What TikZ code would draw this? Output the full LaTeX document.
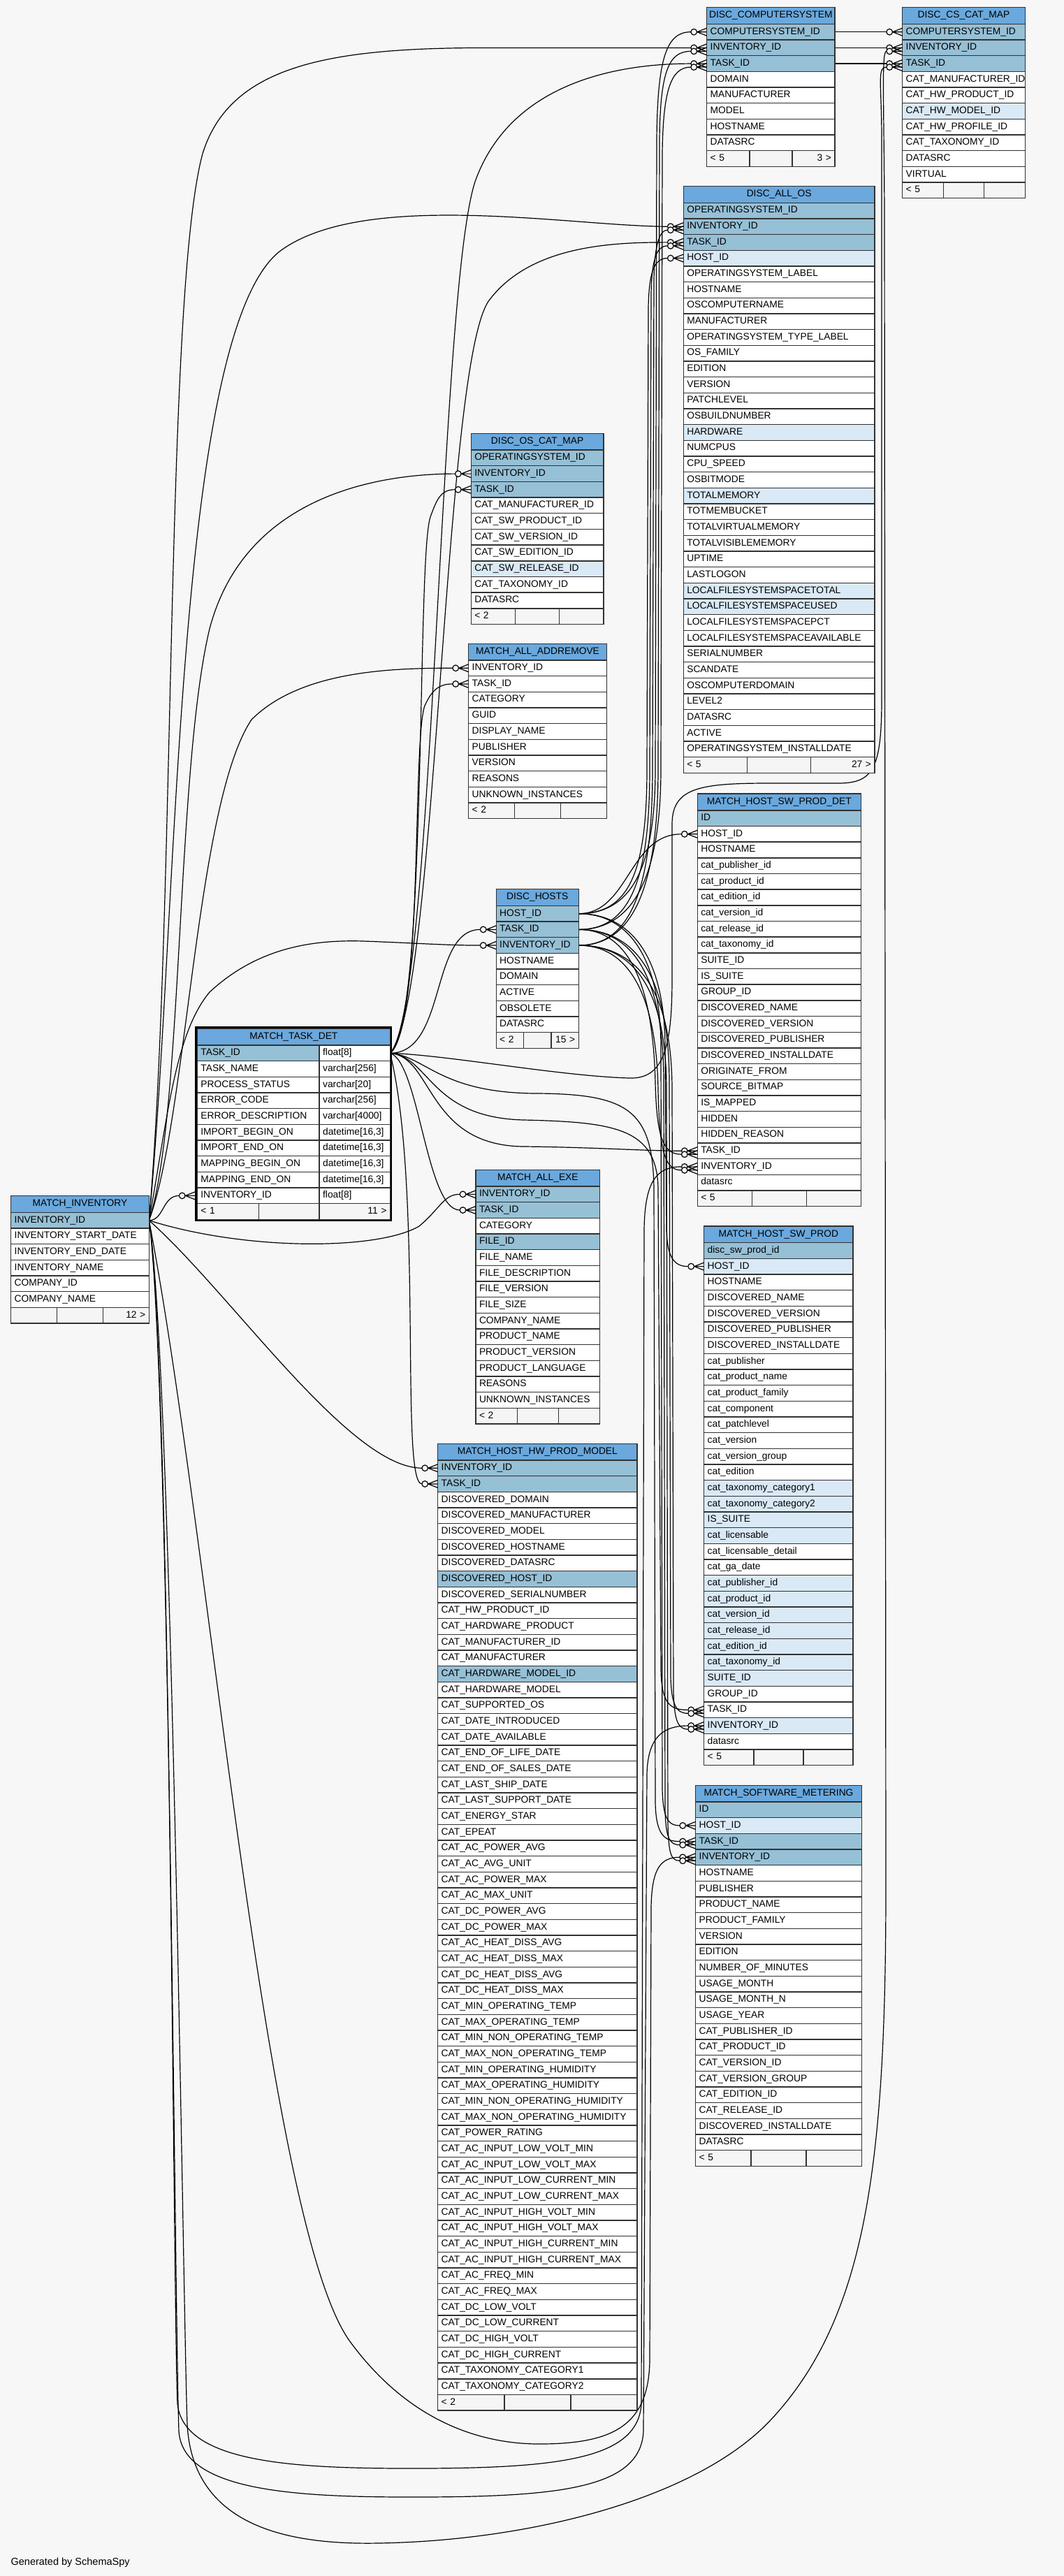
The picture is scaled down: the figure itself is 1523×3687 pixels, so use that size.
\documentclass[tikz,border=0pt]{standalone}
\usepackage{fontspec}
\setmainfont{Liberation Sans}
\usepackage{underscore}
\usepackage{tikz}

\definecolor{pagebg}{RGB}{247,247,247}
\definecolor{headblue}{RGB}{106,168,221}
\definecolor{pk}{RGB}{150,192,214}
\definecolor{ix}{RGB}{218,233,246}
\definecolor{fd}{RGB}{255,255,255}
\definecolor{footgray}{RGB}{245,245,245}
\definecolor{gridline}{RGB}{50,50,50}

\pgfdeclarelayer{bg}
\pgfdeclarelayer{edges}
\pgfsetlayers{bg,edges,main}

\newcommand{\tabfont}{\fontsize{13.8}{16}\selectfont}

% one table: name, left x, right x, top y, title, rows, footer left, footer right
\newcommand{\dbtable}[8]{
  \pgfmathsetmacro{\tw}{#3-#2}
  \pgfmathsetmacro{\tx}{#3-#2-10}
  \node[tabhead, minimum width=\tw pt, text width=\tx pt] (#1) at (#2,#4) {\makebox[\linewidth][c]{#5}};
  \foreach \kd/\lbl [count=\rw] in {#6} {
    \node[tabrow, fill=\kd, minimum width=\tw pt, text width=\tx pt] (#1-\rw) at (#2,{#4+23.7+(\rw-1)*22.67}) {\mbox{\lbl}};
    \xdef\nrows{\rw}
  }
  \pgfmathsetmacro{\fw}{\tw/3}
  \pgfmathsetmacro{\fx}{\tw/3-10}
  \pgfmathsetmacro{\fy}{#4+23.7+\nrows*22.67}
  \node[tabfoot, minimum width=\fw pt, text width=\fx pt, align=left] (#1-fa) at (#2,\fy) {#7};
  \node[tabfoot, minimum width=\fw pt, text width=\fx pt] (#1-fb) at ({#2+\fw},\fy) {};
  \node[tabfoot, minimum width=\fw pt, text width=\fx pt, align=right] (#1-fc) at ({#2+2*\fw},\fy) {#8};
}

\begin{document}
\begin{tikzpicture}[x=1pt, y=-1pt,
    tabhead/.style={draw=gridline, line width=1.4pt, fill=headblue, anchor=north west,
      inner xsep=5pt, inner ysep=0pt, outer sep=0pt, minimum height=23.7pt,
      text height=10.5pt, text depth=3.7pt, align=center, font=\tabfont},
    tabrow/.style={draw=gridline, line width=1.4pt, anchor=north west,
      inner xsep=5pt, inner ysep=0pt, outer sep=0pt, minimum height=22.67pt,
      text height=10.5pt, text depth=3.7pt, align=left, font=\tabfont},
    tabfoot/.style={tabrow, fill=footgray},
    fk/.style={line width=1.2pt},
    crow/.pic={
      \draw[fk] (-14,0) -- (0,-5.5) (-14,0) -- (0,0) (-14,0) -- (0,5.5);
      \draw[fk, fill=pagebg] (-18.5,0) circle (4.3);
    }]

    \begin{pgfonlayer}{bg}
      \fill[pagebg] (0,0) rectangle (1523,3687);
    \end{pgfonlayer}
    \useasboundingbox (0,0) rectangle (1523,3687);

    % Tables
    \dbtable{cs}{1011.7}{1195}{10.7}{DISC_COMPUTERSYSTEM}{pk/COMPUTERSYSTEM_ID, pk/INVENTORY_ID, pk/TASK_ID,
      fd/DOMAIN, fd/MANUFACTURER, fd/MODEL, fd/HOSTNAME, fd/DATASRC}{< 5}{3 >}

    \dbtable{cscm}{1291.7}{1467.3}{10.7}{DISC_CS_CAT_MAP}{pk/COMPUTERSYSTEM_ID, pk/INVENTORY_ID, pk/TASK_ID,
      fd/CAT_MANUFACTURER_ID, fd/CAT_HW_PRODUCT_ID, ix/CAT_HW_MODEL_ID, fd/CAT_HW_PROFILE_ID,
      fd/CAT_TAXONOMY_ID, fd/DATASRC, fd/VIRTUAL}{< 5}{}

    \dbtable{os}{978.3}{1252}{266.5}{DISC_ALL_OS}{pk/OPERATINGSYSTEM_ID, pk/INVENTORY_ID, pk/TASK_ID,
      ix/HOST_ID, fd/OPERATINGSYSTEM_LABEL, fd/HOSTNAME, fd/OSCOMPUTERNAME, fd/MANUFACTURER,
      fd/OPERATINGSYSTEM_TYPE_LABEL, fd/OS_FAMILY, fd/EDITION, fd/VERSION, fd/PATCHLEVEL,
      fd/OSBUILDNUMBER, ix/HARDWARE, fd/NUMCPUS, fd/CPU_SPEED, fd/OSBITMODE, ix/TOTALMEMORY,
      fd/TOTMEMBUCKET, fd/TOTALVIRTUALMEMORY, fd/TOTALVISIBLEMEMORY, fd/UPTIME, fd/LASTLOGON,
      ix/LOCALFILESYSTEMSPACETOTAL, ix/LOCALFILESYSTEMSPACEUSED, fd/LOCALFILESYSTEMSPACEPCT,
      fd/LOCALFILESYSTEMSPACEAVAILABLE, fd/SERIALNUMBER, fd/SCANDATE, fd/OSCOMPUTERDOMAIN,
      fd/LEVEL2, fd/DATASRC, fd/ACTIVE, fd/OPERATINGSYSTEM_INSTALLDATE}{< 5}{27 >}

    \dbtable{oscm}{674.3}{864}{620.4}{DISC_OS_CAT_MAP}{pk/OPERATINGSYSTEM_ID, pk/INVENTORY_ID, pk/TASK_ID,
      fd/CAT_MANUFACTURER_ID, fd/CAT_SW_PRODUCT_ID, fd/CAT_SW_VERSION_ID, fd/CAT_SW_EDITION_ID,
      ix/CAT_SW_RELEASE_ID, fd/CAT_TAXONOMY_ID, fd/DATASRC}{< 2}{}

    \dbtable{addrem}{670.7}{868.3}{921.2}{MATCH_ALL_ADDREMOVE}{fd/INVENTORY_ID, fd/TASK_ID, fd/CATEGORY,
      fd/GUID, fd/DISPLAY_NAME, fd/PUBLISHER, fd/VERSION, fd/REASONS, fd/UNKNOWN_INSTANCES}{< 2}{}

    \dbtable{hosts}{710.2}{828.2}{1272.7}{DISC_HOSTS}{pk/HOST_ID, pk/TASK_ID, pk/INVENTORY_ID,
      fd/HOSTNAME, fd/DOMAIN, fd/ACTIVE, fd/OBSOLETE, fd/DATASRC}{< 2}{15 >}

    \dbtable{inv}{15.7}{213.3}{1711.7}{MATCH_INVENTORY}{pk/INVENTORY_ID, fd/INVENTORY_START_DATE,
      fd/INVENTORY_END_DATE, fd/INVENTORY_NAME, fd/COMPANY_ID, fd/COMPANY_NAME}{}{12 >}

    \dbtable{swdet}{998.3}{1232.3}{1136.1}{MATCH_HOST_SW_PROD_DET}{pk/ID, fd/HOST_ID, fd/HOSTNAME,
      fd/cat_publisher_id, fd/cat_product_id, fd/cat_edition_id, fd/cat_version_id, fd/cat_release_id,
      fd/cat_taxonomy_id, fd/SUITE_ID, fd/IS_SUITE, fd/GROUP_ID, fd/DISCOVERED_NAME,
      fd/DISCOVERED_VERSION, fd/DISCOVERED_PUBLISHER, fd/DISCOVERED_INSTALLDATE, fd/ORIGINATE_FROM,
      fd/SOURCE_BITMAP, fd/IS_MAPPED, fd/HIDDEN, fd/HIDDEN_REASON, fd/TASK_ID, fd/INVENTORY_ID,
      fd/datasrc}{< 5}{}

    \dbtable{exe}{681}{858.7}{1674.3}{MATCH_ALL_EXE}{pk/INVENTORY_ID, pk/TASK_ID, fd/CATEGORY, pk/FILE_ID,
      fd/FILE_NAME, fd/FILE_DESCRIPTION, fd/FILE_VERSION, fd/FILE_SIZE, fd/COMPANY_NAME,
      fd/PRODUCT_NAME, fd/PRODUCT_VERSION, fd/PRODUCT_LANGUAGE, fd/REASONS,
      fd/UNKNOWN_INSTANCES}{< 2}{}

    \dbtable{swprod}{1007.7}{1221}{1754.9}{MATCH_HOST_SW_PROD}{pk/disc_sw_prod_id, ix/HOST_ID, fd/HOSTNAME,
      fd/DISCOVERED_NAME, fd/DISCOVERED_VERSION, fd/DISCOVERED_PUBLISHER, fd/DISCOVERED_INSTALLDATE,
      fd/cat_publisher, fd/cat_product_name, fd/cat_product_family, fd/cat_component,
      fd/cat_patchlevel, fd/cat_version, fd/cat_version_group, fd/cat_edition,
      ix/cat_taxonomy_category1, ix/cat_taxonomy_category2, ix/IS_SUITE, ix/cat_licensable,
      fd/cat_licensable_detail, fd/cat_ga_date, ix/cat_publisher_id, ix/cat_product_id,
      ix/cat_version_id, ix/cat_release_id, ix/cat_edition_id, ix/cat_taxonomy_id, ix/SUITE_ID,
      fd/GROUP_ID, fd/TASK_ID, ix/INVENTORY_ID, fd/datasrc}{< 5}{}

    \dbtable{hw}{626.7}{912}{2066.2}{MATCH_HOST_HW_PROD_MODEL}{pk/INVENTORY_ID, pk/TASK_ID,
      fd/DISCOVERED_DOMAIN, fd/DISCOVERED_MANUFACTURER, fd/DISCOVERED_MODEL, fd/DISCOVERED_HOSTNAME,
      fd/DISCOVERED_DATASRC, pk/DISCOVERED_HOST_ID, fd/DISCOVERED_SERIALNUMBER, fd/CAT_HW_PRODUCT_ID,
      fd/CAT_HARDWARE_PRODUCT, fd/CAT_MANUFACTURER_ID, fd/CAT_MANUFACTURER, pk/CAT_HARDWARE_MODEL_ID,
      fd/CAT_HARDWARE_MODEL, fd/CAT_SUPPORTED_OS, fd/CAT_DATE_INTRODUCED, fd/CAT_DATE_AVAILABLE,
      fd/CAT_END_OF_LIFE_DATE, fd/CAT_END_OF_SALES_DATE, fd/CAT_LAST_SHIP_DATE,
      fd/CAT_LAST_SUPPORT_DATE, fd/CAT_ENERGY_STAR, fd/CAT_EPEAT, fd/CAT_AC_POWER_AVG,
      fd/CAT_AC_AVG_UNIT, fd/CAT_AC_POWER_MAX, fd/CAT_AC_MAX_UNIT, fd/CAT_DC_POWER_AVG,
      fd/CAT_DC_POWER_MAX, fd/CAT_AC_HEAT_DISS_AVG, fd/CAT_AC_HEAT_DISS_MAX, fd/CAT_DC_HEAT_DISS_AVG,
      fd/CAT_DC_HEAT_DISS_MAX, fd/CAT_MIN_OPERATING_TEMP, fd/CAT_MAX_OPERATING_TEMP,
      fd/CAT_MIN_NON_OPERATING_TEMP, fd/CAT_MAX_NON_OPERATING_TEMP, fd/CAT_MIN_OPERATING_HUMIDITY,
      fd/CAT_MAX_OPERATING_HUMIDITY, fd/CAT_MIN_NON_OPERATING_HUMIDITY,
      fd/CAT_MAX_NON_OPERATING_HUMIDITY, fd/CAT_POWER_RATING, fd/CAT_AC_INPUT_LOW_VOLT_MIN,
      fd/CAT_AC_INPUT_LOW_VOLT_MAX, fd/CAT_AC_INPUT_LOW_CURRENT_MIN, fd/CAT_AC_INPUT_LOW_CURRENT_MAX,
      fd/CAT_AC_INPUT_HIGH_VOLT_MIN, fd/CAT_AC_INPUT_HIGH_VOLT_MAX, fd/CAT_AC_INPUT_HIGH_CURRENT_MIN,
      fd/CAT_AC_INPUT_HIGH_CURRENT_MAX, fd/CAT_AC_FREQ_MIN, fd/CAT_AC_FREQ_MAX, fd/CAT_DC_LOW_VOLT,
      fd/CAT_DC_LOW_CURRENT, fd/CAT_DC_HIGH_VOLT, fd/CAT_DC_HIGH_CURRENT, fd/CAT_TAXONOMY_CATEGORY1,
      fd/CAT_TAXONOMY_CATEGORY2}{< 2}{}

    \dbtable{meter}{995.7}{1233.3}{2555.2}{MATCH_SOFTWARE_METERING}{pk/ID, ix/HOST_ID, pk/TASK_ID,
      pk/INVENTORY_ID, fd/HOSTNAME, fd/PUBLISHER, fd/PRODUCT_NAME, fd/PRODUCT_FAMILY, fd/VERSION,
      fd/EDITION, fd/NUMBER_OF_MINUTES, fd/USAGE_MONTH, fd/USAGE_MONTH_N, fd/USAGE_YEAR,
      fd/CAT_PUBLISHER_ID, fd/CAT_PRODUCT_ID, fd/CAT_VERSION_ID, fd/CAT_VERSION_GROUP,
      fd/CAT_EDITION_ID, fd/CAT_RELEASE_ID, fd/DISCOVERED_INSTALLDATE, fd/DATASRC}{< 5}{}

    % MATCH_TASK_DET, the focus table with its heavy frame
    \draw[line width=2.6pt] (280.5,1470.5) rectangle (559.5,1746.5);
    \node[tabhead, minimum width=276pt, text width=266pt] (task) at (282.4,1472.3) {MATCH_TASK_DET};
    \foreach \kd/\lbl/\typ [count=\rw] in {pk/TASK_ID/{float[8]}, fd/TASK_NAME/{varchar[256]},
        fd/PROCESS_STATUS/{varchar[20]}, fd/ERROR_CODE/{varchar[256]},
        fd/ERROR_DESCRIPTION/{varchar[4000]}, fd/IMPORT_BEGIN_ON/{datetime[16,3]},
        fd/IMPORT_END_ON/{datetime[16,3]}, fd/MAPPING_BEGIN_ON/{datetime[16,3]},
        fd/MAPPING_END_ON/{datetime[16,3]}, fd/INVENTORY_ID/{float[8]}} {
      \node[tabrow, fill=\kd, minimum width=174.7pt, text width=164.7pt] (task-\rw) at (282.4,{1496+(\rw-1)*22.67}) {\mbox{\lbl}};
      \node[tabrow, fill=fd, minimum width=101.3pt, text width=91.3pt] (taskT-\rw) at (457.1,{1496+(\rw-1)*22.67}) {\mbox{\typ}};
    }
    \node[tabfoot, minimum width=87.8pt, text width=77.8pt, align=left] (task-fa) at (282.4,1722.7) {< 1};
    \node[tabfoot, minimum width=86.9pt, text width=76.9pt] (task-fb) at (370.2,1722.7) {};
    \node[tabfoot, minimum width=101.3pt, text width=91.3pt, align=right] (task-fc) at (457.1,1722.7) {11 >};

    % Relationships
    \begin{pgfonlayer}{edges}
      % DISC_COMPUTERSYSTEM to DISC_CS_CAT_MAP
      \draw[fk] (cs-1.east) -- ([xshift=-22.8pt]cscm-1.west);
      \draw[fk] (cs-2.east) -- ([xshift=-22.8pt]cscm-2.west);
      \draw[fk] (cs-3.east) -- ([xshift=-22.8pt]cscm-3.west);

      % MATCH_INVENTORY.INVENTORY_ID
      \draw[fk] (inv-1.east) .. controls (235,1746.7) and (232,1711.4) .. ([xshift=-26pt]task-10.west);
      \draw[fk] (inv-1.east) .. controls (240,1600) and (250,1480) .. (300,1420)
        .. controls (370,1355) and (450,1345) .. (520,1347)
        .. controls (600,1350) and (640,1353.1) .. ([xshift=-22.8pt]hosts-3.west);
      \draw[fk] (inv-1.east) .. controls (262,1600) and (252,1100) .. (300,900)
        .. controls (350,710) and (540,678.1) .. ([xshift=-22.8pt]oscm-2.west);
      \draw[fk] (inv-1.east) .. controls (268,1600) and (280,1150) .. (360,1030)
        .. controls (430,960) and (560,956.2) .. ([xshift=-22.8pt]addrem-1.west);
      \draw[fk] (inv-1.east) .. controls (350,1790) and (540,1790) .. (600,1755)
        .. controls (630,1730) and (635,1709.3) .. ([xshift=-22.8pt]exe-1.west);
      \draw[fk] (inv-1.east) .. controls (330,1850) and (500,2101.2) .. ([xshift=-22.8pt]hw-1.west);
      \draw[fk] (inv-1.east) .. controls (252,1300) and (236,420) .. (290,220)
        .. controls (330,90) and (480,68.4) .. (700,68.4) -- ([xshift=-22.8pt]cs-2.west);
      \draw[fk] (inv-1.east) .. controls (256,1300) and (250,480) .. (400,360)
        .. controls (520,270) and (820,324.2) .. ([xshift=-22.8pt]os-2.west);
      \draw[fk] (inv-1.east) .. controls (244,1950) and (248,3300) .. (254,3440)
        .. controls (262,3525) and (420,3533) .. (590,3533)
        .. controls (800,3533) and (914,3520) .. (918,3440) -- (922,1760)
        .. controls (923,1690) and (940,1669.9) .. ([xshift=-22.8pt]swdet-23.west);
      \draw[fk] (inv-1.east) .. controls (242,1950) and (250,3300) .. (256,3480)
        .. controls (262,3565) and (420,3574) .. (590,3574)
        .. controls (800,3574) and (917,3562) .. (921,3480) -- (926,2540)
        .. controls (927,2485) and (950,2470.1) .. ([xshift=-22.8pt]swprod-31.west);
      \draw[fk] (inv-1.east) .. controls (300,2200) and (380,3180) .. (500,3350)
        .. controls (580,3460) and (680,3498) .. (772,3498)
        .. controls (880,3498) and (928,3470) .. (930,3380) -- (932,2730)
        .. controls (933,2675) and (945,2658.3) .. ([xshift=-22.8pt]meter-4.west);
      \draw[fk] (inv-1.east) .. controls (246,1950) and (262,3300) .. (268,3470)
        .. controls (276,3620) and (420,3642) .. (540,3640)
        .. controls (750,3637) and (990,3580) .. (1100,3467)
        .. controls (1240,3320) and (1268,3100) .. (1268,2700) -- (1266,300)
        .. controls (1265,130) and (1262,73.4) .. ([xshift=-22.8pt,yshift=-5pt]cscm-2.west);

      % MATCH_TASK_DET.TASK_ID
      \draw[fk] (taskT-1.east) .. controls (640,1507.3) and (615,1330.4) .. ([xshift=-22.8pt]hosts-2.west);
      \draw[fk] (taskT-1.east) .. controls (612,1470) and (596,800) .. (616,740)
        .. controls (626,712) and (632,700.8) .. ([xshift=-22.8pt]oscm-3.west);
      \draw[fk] (taskT-1.east) .. controls (606,1470) and (590,1060) .. (608,1010)
        .. controls (618,988) and (628,978.9) .. ([xshift=-22.8pt]addrem-2.west);
      \draw[fk] (taskT-1.east) .. controls (600,1520) and (610,1732) .. ([xshift=-22.8pt]exe-2.west);
      \draw[fk] (taskT-1.east) .. controls (606,1700) and (572,2123.9) .. ([xshift=-22.8pt]hw-2.west);
      \draw[fk] (taskT-1.east) .. controls (622,1440) and (628,420) .. (680,260)
        .. controls (730,120) and (880,91) .. ([xshift=-22.8pt]cs-3.west);
      \draw[fk] (taskT-1.east) .. controls (626,1440) and (634,520) .. (700,430)
        .. controls (760,350) and (880,346.9) .. ([xshift=-22.8pt]os-3.west);
      \draw[fk] (taskT-1.east) .. controls (620,1512) and (610,1640) .. (750,1641)
        .. controls (850,1642) and (920,1647.2) .. ([xshift=-22.8pt]swdet-22.west);
      \draw[fk] (taskT-1.east) .. controls (615,1512) and (615,1600) .. (750,1603)
        .. controls (880,1606) and (940,1615) .. (942,1700) -- (946,2390)
        .. controls (947,2440) and (960,2447.4) .. ([xshift=-22.8pt]swprod-30.west);
      \draw[fk] (taskT-1.east) .. controls (610,1512) and (630,1565) .. (770,1565)
        .. controls (900,1566) and (934,1590) .. (936,1700) -- (938,2580)
        .. controls (939,2625) and (950,2635.6) .. ([xshift=-22.8pt]meter-3.west);
      \draw[fk] (taskT-1.east) .. controls (640,1510) and (800,1540) .. (900,1543)
        .. controls (950,1545) and (962,1500) .. (962,1400) -- (962,1180)
        .. controls (962,1128) and (1000,1121) .. (1100,1121) -- (1200,1121)
        .. controls (1250,1121) and (1262,1100) .. (1262,1000) -- (1262,200)
        .. controls (1262,120) and (1255,96) .. ([xshift=-22.8pt,yshift=-5pt]cscm-3.west);

      % DISC_HOSTS keys
      \draw[fk] (hosts-1.east) .. controls (900,1307.7) and (938,1250) .. (938,1100) -- (940,200)
        .. controls (941,80) and (955,45.7) .. ([xshift=-22.8pt]cs-1.west);
      \draw[fk] (hosts-3.east) .. controls (906,1353.1) and (942,1270) .. (942,1100) -- (944,200)
        .. controls (945,100) and (958,73.4) .. ([xshift=-22.8pt,yshift=-5pt]cs-2.west);
      \draw[fk] (hosts-2.east) .. controls (904,1330.4) and (946,1260) .. (946,1100) -- (948,220)
        .. controls (949,130) and (960,96) .. ([xshift=-22.8pt,yshift=-5pt]cs-3.west);
      \draw[fk] (hosts-1.east) .. controls (900,1307.7) and (926,1250) .. (926,1100) -- (928,440)
        .. controls (929,390) and (936,369.6) .. ([xshift=-22.8pt]os-4.west);
      \draw[fk] (hosts-2.east) .. controls (902,1330.4) and (930,1260) .. (930,1100) -- (932,420)
        .. controls (933,370) and (940,351.9) .. ([xshift=-22.8pt,yshift=-5pt]os-3.west);
      \draw[fk] (hosts-3.east) .. controls (904,1353.1) and (934,1270) .. (934,1100) -- (936,400)
        .. controls (937,350) and (944,329.2) .. ([xshift=-22.8pt,yshift=-5pt]os-2.west);
      \draw[fk] (hosts-1.east) .. controls (900,1307.7) and (900,1193.8) .. ([xshift=-22.8pt]swdet-2.west);
      \draw[fk] (hosts-2.east) .. controls (905,1330.4) and (935,1420) .. (938,1550)
        .. controls (940,1630) and (950,1652.2) .. ([xshift=-22.8pt,yshift=-5pt]swdet-22.west);
      \draw[fk] (hosts-3.east) .. controls (908,1353.1) and (940,1440) .. (942,1560)
        .. controls (944,1650) and (952,1674.9) .. ([xshift=-22.8pt,yshift=-5pt]swdet-23.west);
      \draw[fk] (hosts-1.east) .. controls (910,1307.7) and (952,1380) .. (952,1500) -- (954,1760)
        .. controls (955,1800) and (965,1812.6) .. ([xshift=-22.8pt]swprod-2.west);
      \draw[fk] (hosts-2.east) .. controls (912,1330.4) and (958,1400) .. (958,1550) -- (960,2400)
        .. controls (961,2440) and (968,2452.4) .. ([xshift=-22.8pt,yshift=-5pt]swprod-30.west);
      \draw[fk] (hosts-3.east) .. controls (914,1353.1) and (962,1420) .. (962,1560) -- (964,2420)
        .. controls (965,2462) and (970,2475.1) .. ([xshift=-22.8pt,yshift=-5pt]swprod-31.west);
      \draw[fk] (hosts-1.east) .. controls (905,1307.7) and (946,1380) .. (946,1500) -- (948,2560)
        .. controls (949,2600) and (955,2612.9) .. ([xshift=-22.8pt]meter-2.west);
      \draw[fk] (hosts-2.east) .. controls (908,1330.4) and (950,1400) .. (950,1550) -- (952,2590)
        .. controls (953,2630) and (958,2640.6) .. ([xshift=-22.8pt,yshift=-5pt]meter-3.west);
      \draw[fk] (hosts-3.east) .. controls (910,1353.1) and (954,1420) .. (954,1560) -- (956,2610)
        .. controls (957,2652) and (960,2663.3) .. ([xshift=-22.8pt,yshift=-5pt]meter-4.west);
    \end{pgfonlayer}

    % Crow's feet at the referencing columns
    \pic at ([xshift=-3.2pt]task-10.west) {crow};
    \foreach \p in {hosts-2, hosts-3, oscm-2, oscm-3, addrem-1, addrem-2, exe-1, exe-2, hw-1, hw-2,
        cs-1, cs-2, cs-3, cscm-1, cscm-2, cscm-3, os-2, os-3, os-4, swdet-2, swdet-22, swdet-23,
        swprod-2, swprod-30, swprod-31, meter-2, meter-3, meter-4}
      \pic at (\p.west) {crow};
    \foreach \p in {cs-2, cs-3, cscm-2, cscm-3, os-2, os-3, swdet-22, swdet-23,
        swprod-30, swprod-31, meter-3, meter-4}
      \pic at ([yshift=-5pt]\p.west) {crow};

    \node[anchor=base west, inner sep=0pt, font=\fontsize{14.5}{17}\selectfont] (credit) at (15.4,3671.7) {Generated by SchemaSpy};

\end{tikzpicture}
\end{document}
